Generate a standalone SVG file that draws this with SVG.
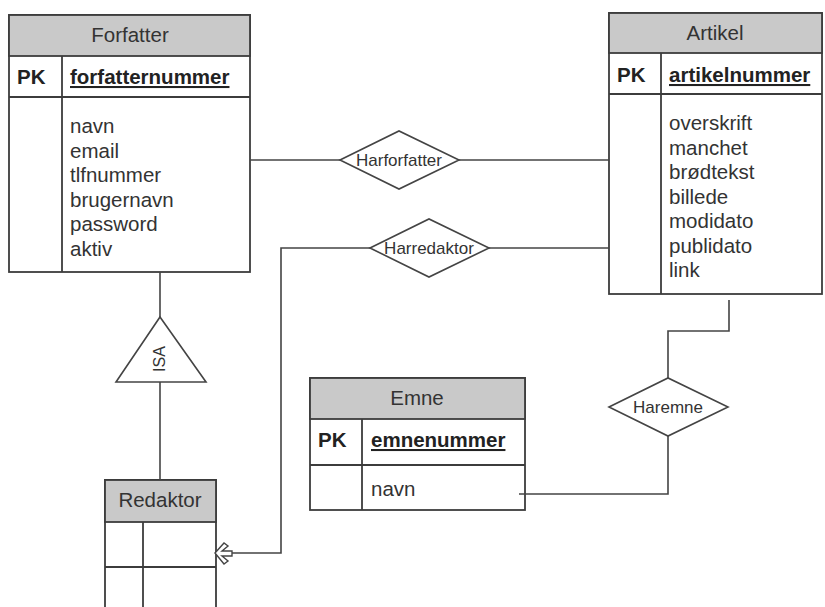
<svg xmlns="http://www.w3.org/2000/svg" width="825" height="607" viewBox="0 0 825 607">
<style>
.box{fill:#fff;stroke:#3c3c3c;stroke-width:1.8}
.hdr{fill:#c9c9c9;stroke:#3c3c3c;stroke-width:1.8}
.ln{stroke:#3c3c3c;stroke-width:1.8;fill:none}
.conn{stroke:#444;stroke-width:1.6;fill:none}
.t{font-family:"Liberation Sans",Arial,sans-serif;font-size:20.5px;fill:#333}
.title{text-anchor:middle}
.pk{font-weight:bold;fill:#222}
.key{font-weight:bold;fill:#222;text-decoration:underline}
.rel{fill:#fff;stroke:#444;stroke-width:1.6}
.rt{font-family:"Liberation Sans",Arial,sans-serif;font-size:17px;fill:#333;text-anchor:middle}
</style>
<rect width="825" height="607" fill="#fff"/>
<g id="Forfatter">
<rect class="box" x="9" y="15" width="241" height="257"/>
<rect class="hdr" x="9" y="15" width="241" height="41"/>
<line class="ln" x1="9" y1="97" x2="250" y2="97"/>
<line class="ln" x1="62" y1="56" x2="62" y2="272"/>
<text class="t title" x="130" y="42">Forfatter</text>
<text class="t pk" x="17" y="84">PK</text>
<text class="t key" x="70" y="84">forfatternummer</text>
<text class="t" x="70" y="133">navn</text>
<text class="t" x="70" y="157.5">email</text>
<text class="t" x="70" y="182">tlfnummer</text>
<text class="t" x="70" y="206.5">brugernavn</text>
<text class="t" x="70" y="231">password</text>
<text class="t" x="70" y="255.5">aktiv</text>
</g>
<g id="Artikel">
<rect class="box" x="609" y="13" width="213" height="281"/>
<rect class="hdr" x="609" y="13" width="213" height="40"/>
<line class="ln" x1="609" y1="94" x2="822" y2="94"/>
<line class="ln" x1="661" y1="53" x2="661" y2="294"/>
<text class="t title" x="715" y="40">Artikel</text>
<text class="t pk" x="617" y="82">PK</text>
<text class="t key" x="669" y="82">artikelnummer</text>
<text class="t" x="669" y="130">overskrift</text>
<text class="t" x="669" y="154.5">manchet</text>
<text class="t" x="669" y="179">brødtekst</text>
<text class="t" x="669" y="203.5">billede</text>
<text class="t" x="669" y="228">modidato</text>
<text class="t" x="669" y="252.5">publidato</text>
<text class="t" x="669" y="277">link</text>
</g>
<g id="Emne">
<rect class="box" x="310" y="378" width="215" height="132"/>
<rect class="hdr" x="310" y="378" width="215" height="41"/>
<line class="ln" x1="310" y1="465" x2="525" y2="465"/>
<line class="ln" x1="362" y1="419" x2="362" y2="510"/>
<text class="t title" x="417" y="405">Emne</text>
<text class="t pk" x="318" y="447">PK</text>
<text class="t key" x="371" y="447">emnenummer</text>
<text class="t" x="371" y="496">navn</text>
</g>
<g id="Redaktor">
<path class="ln" d="M105,612 V480 H216 V612"/>
<rect class="hdr" x="105" y="480" width="111" height="42"/>
<line class="ln" x1="105" y1="567" x2="216" y2="567"/>
<line class="ln" x1="143" y1="522" x2="143" y2="612"/>
<text class="t title" x="160" y="507">Redaktor</text>
</g>
<g id="ISA">
<polygon class="rel" points="160,317 206,382 116,382"/>
<text class="rt" transform="translate(165,359) rotate(-90)" style="font-size:16px">ISA</text>
</g>
<g id="Harforfatter">
<polygon class="rel" points="340,160 399,131 459,160 399,189"/>
<text class="rt" x="399" y="166">Harforfatter</text>
</g>
<g id="Harredaktor">
<polygon class="rel" points="370,248 429,219 489,248 429,277"/>
<text class="rt" x="429" y="254">Harredaktor</text>
</g>
<g id="Haremne">
<polygon class="rel" points="609,407 668,378 728,407 668,436"/>
<text class="rt" x="668" y="413">Haremne</text>
</g>
<g id="connectors">
<line class="conn" x1="250" y1="160" x2="340" y2="160"/>
<line class="conn" x1="459" y1="160" x2="609" y2="160"/>
<line class="conn" x1="609" y1="248" x2="489" y2="248"/>
<polyline class="conn" points="370,248 281,248 281,553 230,553"/>
<polyline class="conn" points="729,300 729,331 668,331 668,378"/>
<polyline class="conn" points="668,436 668,494 519,494"/>
<line class="conn" x1="160" y1="272" x2="160" y2="317"/>
<line class="conn" x1="160" y1="382" x2="160" y2="480"/>
<polygon fill="#fff" stroke="#444" stroke-width="1.4" points="215,553 224,543 228,546 222,551 232,551 232,556 222,556 228,561 224,564"/>
</g>
</svg>
